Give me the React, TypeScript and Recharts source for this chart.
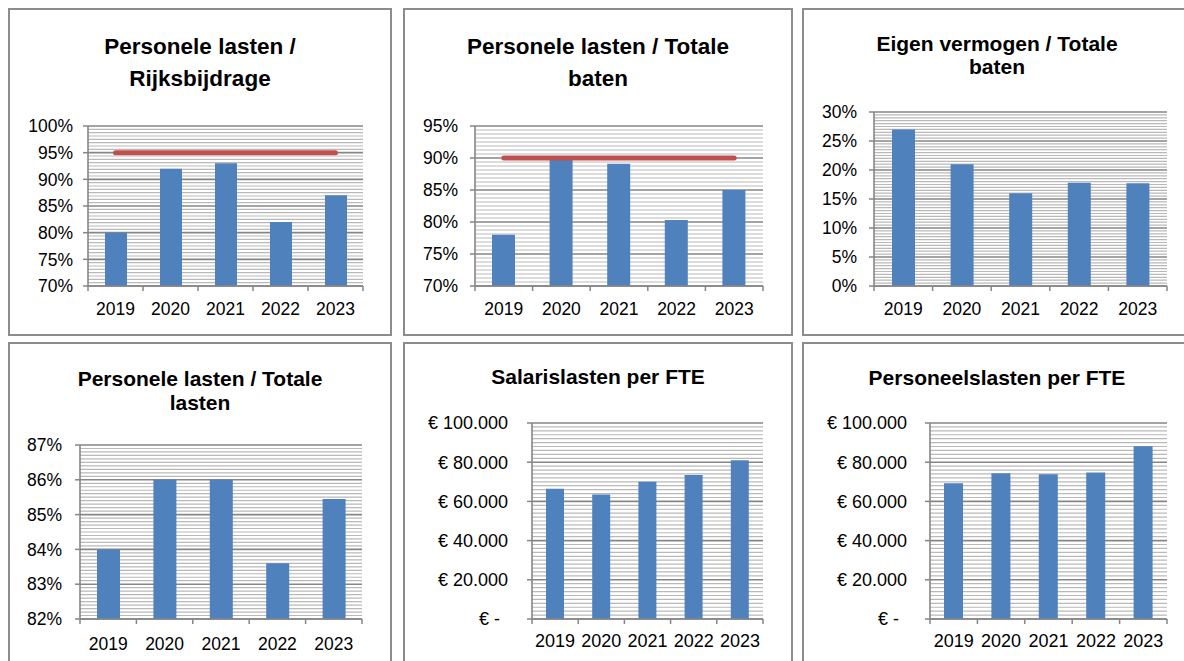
import React from 'react';
import { ComposedChart, Bar, Line, XAxis, YAxis, CartesianGrid } from 'recharts';

// ---------- data ----------
const years = ['2019', '2020', '2021', '2022', '2023'];

const rijksbijdrageRatio = [80, 92, 93, 82, 87];
const rijksbijdrageNorm = [95, 95, 95, 95, 95];

const totaleBatenRatio = [78, 89.7, 89.1, 80.3, 85];
const totaleBatenNorm = [90, 90, 90, 90, 90];

const eigenVermogenRatio = [27, 21, 16, 17.8, 17.7];

const totaleLastenRatio = [84, 86, 86, 83.6, 85.45];

const salarisPerFte = [66500, 63500, 70000, 73500, 81000];
const personeelPerFte = [69200, 74300, 73800, 74800, 88200];

const ticksRijks = [70, 75, 80, 85, 90, 95, 100];
const ticksBaten = [70, 75, 80, 85, 90, 95];
const ticksEigen = [0, 5, 10, 15, 20, 25, 30];
const ticksLasten = [82, 83, 84, 85, 86, 87];
const ticksEuro = [0, 20000, 40000, 60000, 80000, 100000];

// ---------- helpers ----------
const FONT = "'Liberation Sans', Arial, Helvetica, sans-serif";
const BAR = '#4f81bd';
const NORM = '#c0504d';
const MAJOR = '#868686';
const MINOR = '#b9b9b9';

const pct = (v: number) => `${v}%`;
const euro = (v: number) =>
  v === 0 ? '€ -' : '€ ' + String(v).replace(/\B(?=(\d{3})+(?!\d))/g, '.');

function minorValues(ticks: number[], perMajor: number): number[] {
  const out: number[] = [];
  for (let i = 0; i < ticks.length - 1; i++) {
    const a = ticks[i];
    const b = ticks[i + 1];
    for (let k = 1; k < perMajor; k++) {
      out.push(Math.round((a + ((b - a) * k) / perMajor) * 10000) / 10000);
    }
  }
  return out;
}

type Box = { left: number; top: number; width: number; height: number };
type Plot = { left: number; right: number; top: number; bottom: number };

type PanelProps = {
  box: Box;
  plot: Plot;
  title: string[];
  titleSize: number;
  titleLine: number;
  titleTop: number;
  values: number[];
  norm?: number[];
  ticks: number[];
  minorPer: number;
  barSize: number;
  tickFont: number;
  yGap: number;
  xLabelOffset: number;
  format: (v: number) => string;
  zeroShift?: number;
};

function Panel(p: PanelProps) {
  const data = years.map((y, i) => ({
    year: y,
    value: p.values[i],
    norm: p.norm ? p.norm[i] : undefined,
  }));
  const domain: [number, number] = [p.ticks[0], p.ticks[p.ticks.length - 1]];
  const minor = minorValues(p.ticks, p.minorPer);
  const band = (p.plot.right - p.plot.left) / years.length;
  const bottomLocal = p.plot.bottom - p.box.top;

  const renderXTick = (props: any) => {
    const { x, index, payload } = props;
    const fs = p.tickFont;
    const labelY = bottomLocal + p.xLabelOffset + 0.358 * fs;
    return (
      <g>
        <line x1={x - band / 2} x2={x - band / 2} y1={bottomLocal} y2={bottomLocal + 5} stroke={MAJOR} strokeWidth={1.5} />
        {index === years.length - 1 && (
          <line x1={x + band / 2} x2={x + band / 2} y1={bottomLocal} y2={bottomLocal + 5} stroke={MAJOR} strokeWidth={1.5} />
        )}
        <text x={x} y={labelY} textAnchor="middle" fontSize={fs} fontFamily={FONT} fill="#000">
          {payload.value}
        </text>
      </g>
    );
  };

  const renderYTick = (props: any) => {
    const { x, y, payload } = props;
    const fs = p.tickFont;
    const shift = payload.value === 0 && p.zeroShift ? p.zeroShift : 0;
    return (
      <text x={x - shift} y={y} dy="0.355em" textAnchor="end" fontSize={fs} fontFamily={FONT} fill="#000">
        {p.format(payload.value)}
      </text>
    );
  };

  return (
    <>
      <div
        style={{
          position: 'absolute',
          left: p.box.left,
          top: p.box.top,
          width: p.box.width,
          height: p.box.height,
          boxSizing: 'border-box',
          border: '2px solid #8c8c8c',
          background: '#fff',
        }}
      />
      <div
        style={{
          position: 'absolute',
          left: p.box.left,
          top: p.titleTop,
          width: p.box.width,
          textAlign: 'center',
          fontFamily: FONT,
          fontWeight: 'bold',
          fontSize: p.titleSize,
          lineHeight: `${p.titleLine}px`,
          color: '#000',
        }}
      >
        {p.title.map((t) => (
          <div key={t}>{t}</div>
        ))}
      </div>
      <div style={{ position: 'absolute', left: p.box.left, top: p.box.top }}>
        <ComposedChart
          width={p.box.width}
          height={p.box.height}
          data={data}
          margin={{
            top: p.plot.top - p.box.top,
            right: p.box.left + p.box.width - p.plot.right,
            bottom: 0,
            left: 0,
          }}
        >
          <CartesianGrid horizontal vertical={false} horizontalValues={minor} stroke={MINOR} strokeWidth={1.2} />
          <CartesianGrid horizontal vertical={false} horizontalValues={p.ticks} stroke={MAJOR} strokeWidth={1.6} />
          <XAxis
            dataKey="year"
            height={p.box.top + p.box.height - p.plot.bottom}
            axisLine={{ stroke: MAJOR, strokeWidth: 1.6 }}
            tickLine={false}
            tick={renderXTick}
            interval={0}
          />
          <YAxis
            type="number"
            width={p.plot.left - p.box.left}
            domain={domain}
            ticks={p.ticks}
            allowDataOverflow
            interval={0}
            axisLine={{ stroke: MAJOR, strokeWidth: 1.6 }}
            tickLine={{ stroke: MAJOR, strokeWidth: 1.5 }}
            tickSize={5}
            tickMargin={p.yGap - 5}
            tick={renderYTick}
          />
          <Bar dataKey="value" fill={BAR} barSize={p.barSize} isAnimationActive={false} />
          {p.norm && (
            <Line
              dataKey="norm"
              stroke={NORM}
              strokeWidth={5}
              strokeLinecap="round"
              dot={false}
              activeDot={false}
              isAnimationActive={false}
            />
          )}
        </ComposedChart>
      </div>
    </>
  );
}

export default function App() {
  return (
    <div
      style={{
        position: 'absolute',
        left: 0,
        top: 0,
        width: 1184,
        height: 661,
        overflow: 'hidden',
        background: '#fff',
      }}
    >
      <Panel
        box={{ left: 8, top: 8, width: 384, height: 328 }}
        plot={{ left: 88, right: 363, top: 126, bottom: 286 }}
        title={['Personele lasten /', 'Rijksbijdrage']}
        titleSize={22.5}
        titleLine={32}
        titleTop={31}
        values={rijksbijdrageRatio}
        norm={rijksbijdrageNorm}
        ticks={ticksRijks}
        minorPer={8}
        barSize={22}
        tickFont={17.5}
        yGap={15}
        xLabelOffset={22.3}
        format={pct}
      />
      <Panel
        box={{ left: 403, top: 8, width: 390, height: 328 }}
        plot={{ left: 475, right: 763, top: 126, bottom: 286 }}
        title={['Personele lasten / Totale', 'baten']}
        titleSize={22.5}
        titleLine={32}
        titleTop={31}
        values={totaleBatenRatio}
        norm={totaleBatenNorm}
        ticks={ticksBaten}
        minorPer={8}
        barSize={23}
        tickFont={17.5}
        yGap={17}
        xLabelOffset={22.3}
        format={pct}
      />
      <Panel
        box={{ left: 802, top: 8, width: 390, height: 328 }}
        plot={{ left: 874, right: 1167, top: 112, bottom: 286 }}
        title={['Eigen vermogen / Totale', 'baten']}
        titleSize={21}
        titleLine={23}
        titleTop={32}
        values={eigenVermogenRatio}
        ticks={ticksEigen}
        minorPer={10}
        barSize={23}
        tickFont={17.5}
        yGap={17}
        xLabelOffset={22.3}
        format={pct}
      />
      <Panel
        box={{ left: 8, top: 342, width: 384, height: 330 }}
        plot={{ left: 80, right: 362, top: 445, bottom: 619 }}
        title={['Personele lasten / Totale', 'lasten']}
        titleSize={21}
        titleLine={23.5}
        titleTop={367}
        values={totaleLastenRatio}
        ticks={ticksLasten}
        minorPer={10}
        barSize={23}
        tickFont={17.5}
        yGap={18}
        xLabelOffset={24.3}
        format={pct}
      />
      <Panel
        box={{ left: 403, top: 342, width: 390, height: 330 }}
        plot={{ left: 532, right: 763, top: 423, bottom: 619 }}
        title={['Salarislasten per FTE']}
        titleSize={21}
        titleLine={23}
        titleTop={365}
        values={salarisPerFte}
        ticks={ticksEuro}
        minorPer={10}
        barSize={18}
        tickFont={18}
        yGap={24}
        xLabelOffset={21.8}
        format={euro}
        zeroShift={8}
      />
      <Panel
        box={{ left: 802, top: 342, width: 390, height: 330 }}
        plot={{ left: 930, right: 1167, top: 423, bottom: 619 }}
        title={['Personeelslasten per FTE']}
        titleSize={21}
        titleLine={23}
        titleTop={366}
        values={personeelPerFte}
        ticks={ticksEuro}
        minorPer={10}
        barSize={19}
        tickFont={18}
        yGap={23}
        xLabelOffset={21.8}
        format={euro}
        zeroShift={8}
      />
    </div>
  );
}
